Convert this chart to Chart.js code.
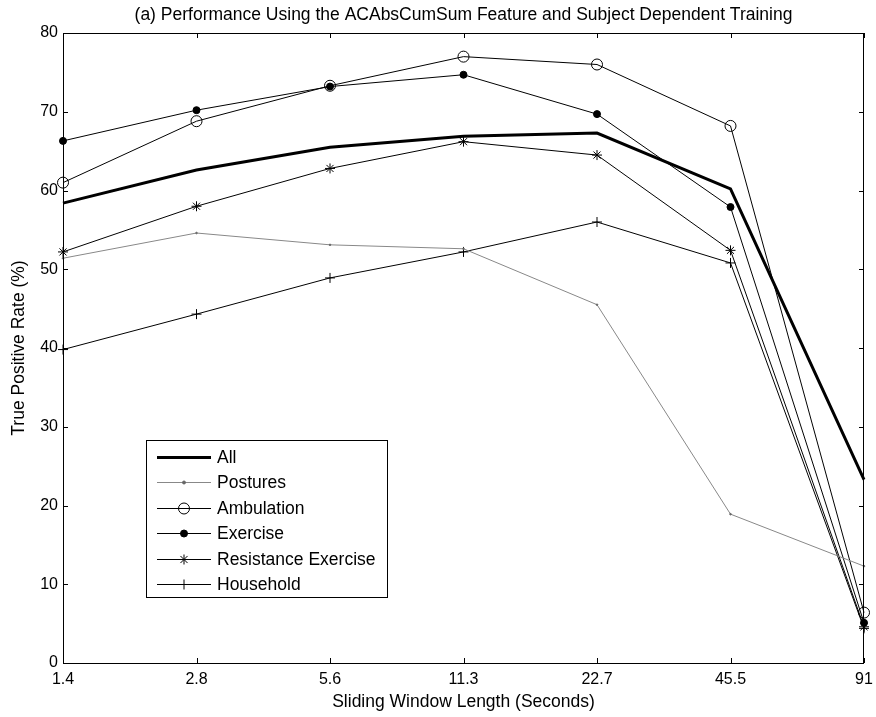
<!DOCTYPE html>
<html>
<head>
<meta charset="utf-8">
<title>Sliding Window Performance</title>
<script src="https://cdn.jsdelivr.net/npm/chart.js@4.4.1/dist/chart.umd.min.js"></script>
<style>
  html, body { margin: 0; padding: 0; background: #fff; }
  #wrap { width: 876px; height: 717px; }
</style>
</head>
<body>
<div id="wrap"><canvas id="perfChart" width="876" height="717"></canvas></div>
<script>
// ==========================
// DATA
// ==========================

const windowLengths = ["1.4", "2.8", "5.6", "11.3", "22.7", "45.5", "91"];

const allRate        = [58.4, 62.6, 65.5, 66.9, 67.3, 60.2, 23.3];
const posturesRate   = [51.4, 54.6, 53.1, 52.6, 45.5, 18.9, 12.3];
const ambulationRate = [61.0, 68.8, 73.3, 77.0, 76.0, 68.2, 6.4];
const exerciseRate   = [66.3, 70.2, 73.2, 74.7, 69.7, 57.9, 5.1];
const resistanceRate = [52.2, 58.0, 62.8, 66.2, 64.5, 52.4, 4.6];
const householdRate  = [39.8, 44.3, 48.9, 52.2, 56.0, 50.8, 4.4];

const yTicks = [0, 10, 20, 30, 40, 50, 60, 70, 80];

const chartTitle = "(a) Performance Using the ACAbsCumSum Feature and Subject Dependent Training";

const FONT = "Arial, 'Liberation Sans', sans-serif";

// ==========================
// MATLAB STYLE AXES (inward ticks, boxed plot, centred title)
// ==========================

const boxAxes = {
    id: "boxAxes",
    afterDatasetsDraw(chart){
        const ctx = chart.ctx;
        const a = chart.chartArea;
        const xs = chart.scales.x;
        const ys = chart.scales.y;
        const len = 5;

        ctx.save();
        ctx.strokeStyle = "#000";
        ctx.lineWidth = 1;
        ctx.strokeRect(a.left + 0.5, a.top + 0.5, a.right - a.left - 1, a.bottom - a.top);

        ctx.beginPath();
        windowLengths.forEach((w, i) => {
            const px = Math.round(xs.getPixelForValue(i)) + 0.5;
            ctx.moveTo(px, a.bottom); ctx.lineTo(px, a.bottom - len);
            ctx.moveTo(px, a.top); ctx.lineTo(px, a.top + len);
        });
        yTicks.forEach(v => {
            const py = Math.round(ys.getPixelForValue(v)) + 0.5;
            ctx.moveTo(a.left, py); ctx.lineTo(a.left + len, py);
            ctx.moveTo(a.right, py); ctx.lineTo(a.right - len, py);
        });
        ctx.stroke();

        // title sits over the axes box, not the whole canvas
        ctx.fillStyle = "#000";
        ctx.font = "17.5px " + FONT;
        ctx.textAlign = "center";
        ctx.textBaseline = "middle";
        ctx.fillText(chartTitle, (a.left + a.right) / 2, 15);
        ctx.restore();
    }
};

// ==========================
// LEGEND BOX
// ==========================

const boxLegend = {
    id: "boxLegend",
    afterDraw(chart){
        const ctx = chart.ctx;
        const x0 = 146, y0 = 440, w = 241, h = 157;
        const rowH = 25.4;

        ctx.save();
        ctx.fillStyle = "#fff";
        ctx.fillRect(x0, y0, w, h);
        ctx.strokeStyle = "#000";
        ctx.lineWidth = 1;
        ctx.strokeRect(x0 + 0.5, y0 + 0.5, w, h);

        ctx.font = "17.5px " + FONT;
        ctx.textBaseline = "middle";

        chart.data.datasets.forEach((ds, i) => {
            const y = Math.round(y0 + 17 + i * rowH) + 0.5;
            ctx.beginPath();
            ctx.strokeStyle = ds.borderColor;
            ctx.lineWidth = ds.borderWidth;
            ctx.moveTo(157, y);
            ctx.lineTo(211, y);
            ctx.stroke();

            if(ds.pointRadius > 0){
                ctx.fillStyle = ds.pointBackgroundColor;
                ctx.strokeStyle = ds.pointBorderColor;
                ctx.lineWidth = 1;
                Chart.helpers.drawPoint(ctx, {
                    pointStyle: ds.pointStyle,
                    radius: Math.max(ds.pointRadius, 1.5),
                    borderWidth: 1
                }, 184, y);
            }

            ctx.fillStyle = "#000";
            ctx.fillText(ds.label, 217, y + 1);
        });
        ctx.restore();
    }
};

// ==========================
// CHART
// ==========================

function series(label, values, opts){
    return Object.assign({
        label: label,
        data: values,
        borderColor: "#000",
        borderWidth: 1,
        pointBorderColor: "#000",
        pointBackgroundColor: "#000",
        pointBorderWidth: 1,
        pointRadius: 0,
        pointHoverRadius: 0,
        tension: 0,
        fill: false,
        clip: false
    }, opts);
}

new Chart(document.getElementById("perfChart"), {

    type: "line",

    data: {
        labels: windowLengths,
        datasets: [
            series("All", allRate, { borderWidth: 3 }),
            series("Postures", posturesRate, {
                borderColor: "#888", pointRadius: 0.8, pointStyle: "circle",
                pointBorderColor: "#666", pointBackgroundColor: "#666"
            }),
            series("Ambulation", ambulationRate, {
                pointRadius: 5.5, pointStyle: "circle", pointBackgroundColor: "rgba(0,0,0,0)"
            }),
            series("Exercise", exerciseRate, { pointRadius: 3.5, pointStyle: "circle" }),
            series("Resistance Exercise", resistanceRate, { pointRadius: 5, pointStyle: "star" }),
            series("Household", householdRate, { pointRadius: 5, pointStyle: "cross" })
        ]
    },

    options: {
        responsive: false,
        animation: false,
        events: [],
        layout: { padding: { left: 0, right: 12, top: 33, bottom: 0 } },
        plugins: {
            legend: { display: false },
            tooltip: { enabled: false },
            title: { display: false }
        },
        scales: {
            x: {
                type: "category",
                offset: false,
                grid: { display: false, drawTicks: false },
                border: { display: false },
                ticks: {
                    color: "#000",
                    font: { family: FONT, size: 16 },
                    padding: 7,
                    autoSkip: false,
                    maxRotation: 0
                },
                title: {
                    display: true,
                    text: "Sliding Window Length (Seconds)",
                    color: "#000",
                    font: { family: FONT, size: 17.5 },
                    padding: { top: 2, bottom: 4 }
                },
                afterFit(scale){
                    scale.height = 54;
                    scale.paddingLeft = 0;
                    scale.paddingRight = 0;
                }
            },
            y: {
                min: 0,
                max: 80,
                grid: { display: false, drawTicks: false },
                border: { display: false },
                ticks: {
                    stepSize: 10,
                    color: "#000",
                    font: { family: FONT, size: 16 },
                    padding: 5
                },
                title: {
                    display: true,
                    text: "True Positive Rate (%)",
                    color: "#000",
                    font: { family: FONT, size: 17.5 },
                    padding: { top: 9, bottom: 2 }
                },
                afterFit(scale){
                    scale.width = 63;
                    scale.paddingTop = 0;
                    scale.paddingBottom = 0;
                }
            }
        }
    },

    plugins: [boxAxes, boxLegend]

});
</script>
</body>
</html>
